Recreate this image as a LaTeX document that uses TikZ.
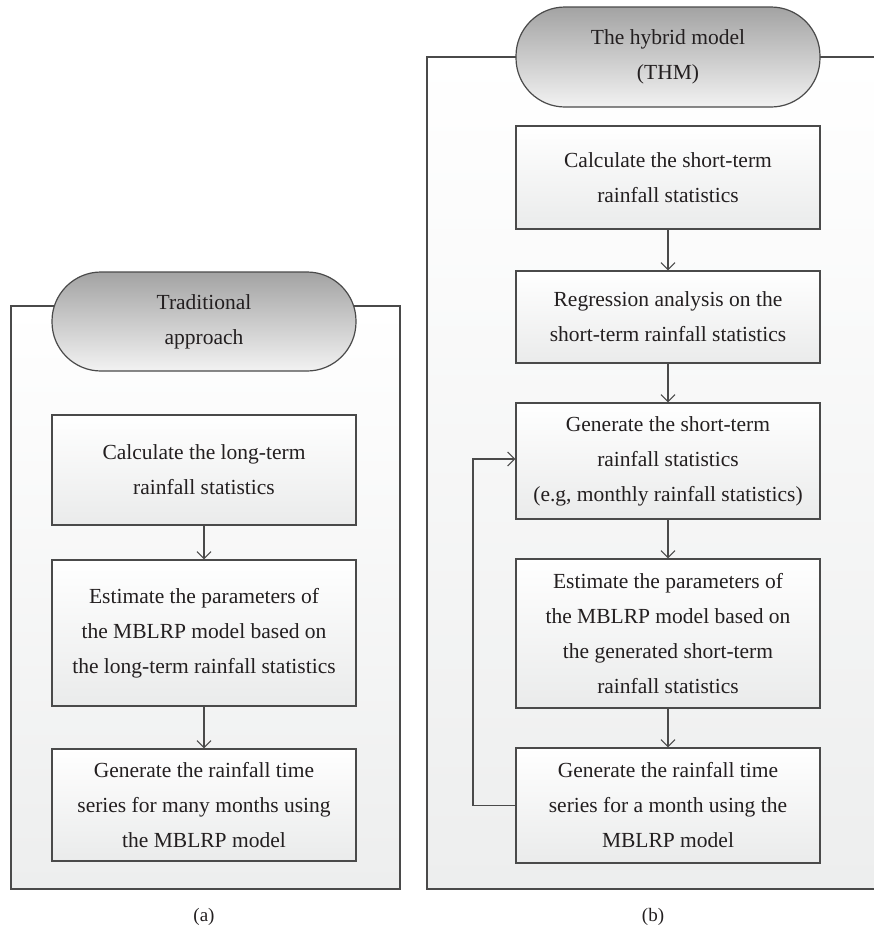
\documentclass[tikz,border=0pt]{standalone}
\usepackage{fontspec}
\setmainfont{Liberation Serif}
\usetikzlibrary{arrows.meta}
\definecolor{linec}{HTML}{4A4A4A}
\definecolor{txt}{HTML}{231F20}
\definecolor{boxbot}{HTML}{EAEBEB}
\definecolor{framebot}{HTML}{EDEEEE}
\definecolor{termtop}{HTML}{A3A3A3}
\definecolor{termbot}{HTML}{F2F2F2}
\begin{document}
\begin{tikzpicture}[x=1pt,y=-1pt,
  every node/.style={text=txt, font=\fontsize{21.5}{35}\selectfont, align=center},
  stepbox/.style={draw=linec, line width=1.2pt, top color=white, bottom color=boxbot,
    minimum width=304pt, inner sep=0pt},
  termbox/.style={draw=linec, line width=1.2pt, top color=termtop, bottom color=termbot,
    minimum width=304pt, minimum height=99pt, rounded corners=49pt, inner sep=0pt},
  flow/.style={draw=linec, line width=1.1pt, -{Straight Barb[length=7pt,width=14pt]}},
  framebox/.style={draw=linec, line width=1.1pt}
]
\useasboundingbox (0,0) rectangle (874,930);

% ---------- panel (a) ----------
\shade[top color=white, bottom color=framebot] (11,306) rectangle (400,889);
\draw[framebox] (11,306) rectangle (400,889);
\node[termbox] (ta) at (204,321.5) {Traditional\\approach};
\node[stepbox, minimum height=110pt] (a1) at (204,470) {Calculate the long-term\\rainfall statistics};
\node[stepbox, minimum height=146pt] (a2) at (204,633) {Estimate the parameters of\\the MBLRP model based on\\the long-term rainfall statistics};
\node[stepbox, minimum height=112pt] (a3) at (204,805) {Generate the rainfall time\\series for many months using\\the MBLRP model};
\draw[flow] (a1) -- (a2);
\draw[flow] (a2) -- (a3);
\node (capa) at (204,917) {\fontsize{19}{22}\selectfont (a)};

% ---------- panel (b) ----------
\shade[top color=white, bottom color=framebot] (427,57) rectangle (874,889);
\draw[framebox] (874,57) -- (427,57) -- (427,889) -- (874,889);
\node[termbox, minimum height=100pt] (tb) at (668,57) {The hybrid model\\(THM)};
\node[stepbox, minimum height=103pt] (b1) at (668,177.5) {Calculate the short-term\\rainfall statistics};
\node[stepbox, minimum height=92pt] (b2) at (668,317) {Regression analysis on the\\short-term rainfall statistics};
\node[stepbox, minimum height=116pt] (b3) at (668,461) {Generate the short-term\\rainfall statistics\\(e.g, monthly rainfall statistics)};
\node[stepbox, minimum height=149pt] (b4) at (668,633.5) {Estimate the parameters of\\the MBLRP model based on\\the generated short-term\\rainfall statistics};
\node[stepbox, minimum height=115pt] (b5) at (668,805.5) {Generate the rainfall time\\series for a month using the\\MBLRP model};
\draw[flow] (b1) -- (b2);
\draw[flow] (b2) -- (b3);
\draw[flow] (b3) -- (b4);
\draw[flow] (b4) -- (b5);
\coordinate (fb) at (473,0);
\draw[flow] (b5.west) -- (b5.west -| fb) -- ([yshift=2pt]b3.west -| fb) -- ([yshift=2pt]b3.west);
\node (capb) at (653,917) {\fontsize{19}{22}\selectfont (b)};
\end{tikzpicture}
\end{document}
